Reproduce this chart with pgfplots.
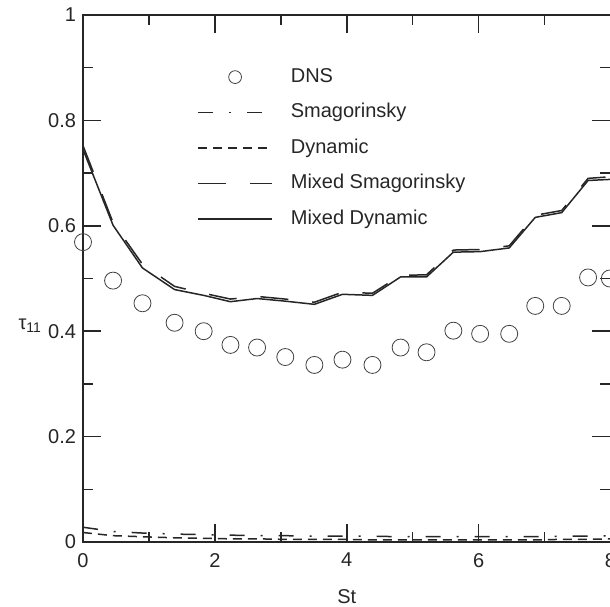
\documentclass[border=0pt]{standalone}
\usepackage{pgfplots}
\pgfplotsset{compat=1.18}
\usepackage{fontspec}
\setmainfont{Liberation Sans}
\pgfplotstableread{
x      dns    smag   dyn    msmag  mdyn
0.000  0.569  0.028  0.018  0.752  0.745
0.456  0.496  0.020  0.012  0.606  0.601
0.902  0.453  0.017  0.010  0.527  0.520
1.389  0.416  0.015  0.008  0.485  0.479
1.830  0.400  0.014  0.007  0.472  0.468
2.236  0.374  0.013  0.006  0.461  0.456
2.640  0.369  0.012  0.006  0.466  0.462
3.068  0.351  0.012  0.005  0.461  0.457
3.509  0.336  0.011  0.005  0.455  0.451
3.935  0.346  0.011  0.005  0.474  0.470
4.390  0.336  0.011  0.004  0.472  0.468
4.817  0.369  0.010  0.004  0.506  0.503
5.210  0.360  0.010  0.004  0.507  0.503
5.617  0.401  0.010  0.004  0.554  0.550
6.023  0.395  0.010  0.004  0.555  0.551
6.464  0.395  0.010  0.004  0.562  0.558
6.859  0.448  0.010  0.004  0.620  0.616
7.260  0.448  0.011  0.005  0.629  0.625
7.660  0.502  0.011  0.005  0.690  0.686
7.990  0.500  0.012  0.006  0.693  0.688
}\datatable
\begin{document}
\begin{tikzpicture}
\path[use as bounding box] (-41.5pt,-32pt) rectangle (263.5pt,271pt);
\clip (-41.5pt,-32pt) rectangle (263.5pt,271pt);
\begin{axis}[
  at={(0pt,0pt)}, anchor=south west,
  scale only axis,
  width=263.75pt, height=263.5pt,
  xmin=0, xmax=8, ymin=0, ymax=1,
  xtick={0,2,4,6,8}, ytick={0,0.2,0.4,0.6,0.8,1},
  minor x tick num=1, minor y tick num=1,
  tick align=inside,
  major tick length=9pt, minor tick length=5pt,
  axis line style={line width=0.8pt, black!85},
  every tick/.style={line width=0.8pt, black!85},
  /pgf/number format/assume math mode=true,
  tick label style={font=\fontsize{10}{12}\selectfont, black!85},
  xticklabel style={yshift=-2pt},
  xlabel={St},
  xlabel style={at={(axis description cs:0.5,-0.103)}, anchor=center, font=\fontsize{10}{12}\selectfont, black!85},
  ylabel={τ\textsubscript{11}},
  ylabel style={at={(axis description cs:-0.1,0.41)}, rotate=-90, anchor=center, font=\fontsize{10}{12}\selectfont, black!85},
  legend style={at={(axis description cs:0.216,0.90)}, anchor=north west, draw=none, fill=none, inner sep=0pt,
    font=\fontsize{10}{12}\selectfont, text=black!85,
    nodes={inner sep=0pt, text height=7pt, text depth=2pt},
    row sep=8.75pt,
    /tikz/every odd column/.append style={column sep=9pt}},
  legend cell align=left,
  legend image code/.code={\draw[mark repeat=2,mark phase=2,#1] plot coordinates {(0pt,0pt) (18.5pt,0pt) (37pt,0pt)};},
]
\addlegendimage{only marks, mark=o, mark size=3.2pt, mark options={black!75, line width=0.4pt}}
\addlegendentry{DNS}
\addplot[forget plot, only marks, mark=o, mark size=4.25pt, mark options={black!75, line width=0.4pt}] table[x=x,y=dns] {\datatable};
\addplot[black!85, line width=0.75pt, dash pattern=on 7.5pt off 8pt on 1pt off 8pt] table[x=x,y=smag] {\datatable};
\addlegendentry{Smagorinsky}
\addplot[black!85, line width=0.75pt, dash pattern=on 4.5pt off 3pt] table[x=x,y=dyn] {\datatable};
\addlegendentry{Dynamic}
\addplot[black!85, line width=0.75pt, dash pattern=on 14pt off 12pt] table[x=x,y=msmag] {\datatable};
\addlegendentry{Mixed Smagorinsky}
\addplot[black!85, line width=0.75pt] table[x=x,y=mdyn] {\datatable};
\addlegendentry{Mixed Dynamic}
\end{axis}
\end{tikzpicture}
\end{document}
